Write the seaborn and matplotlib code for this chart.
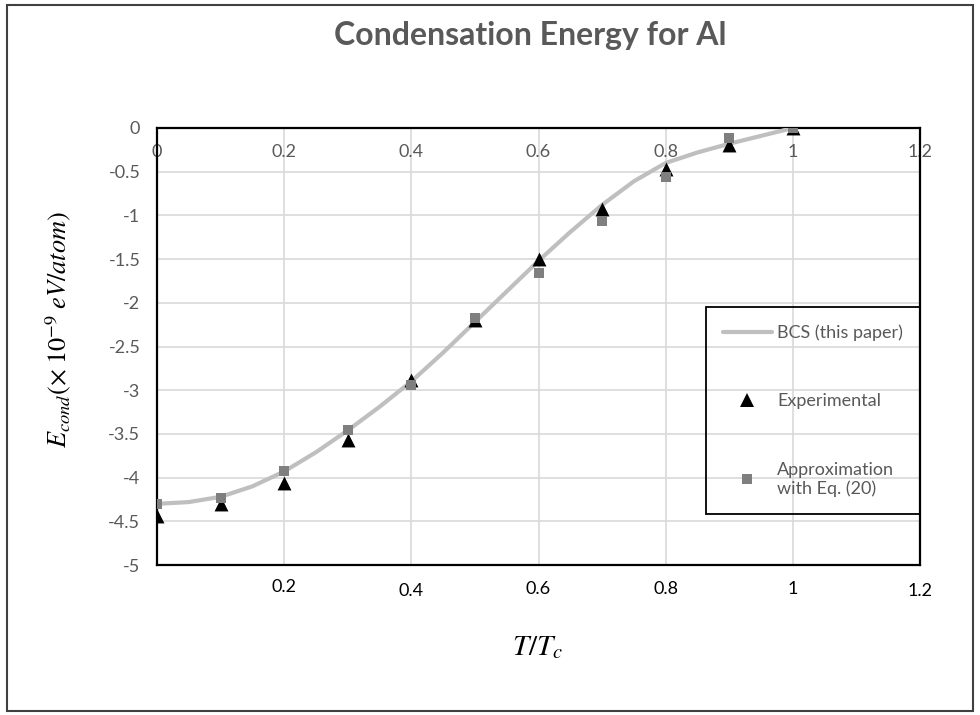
import numpy as np
import pandas as pd
import matplotlib
matplotlib.use("Agg")
import matplotlib.pyplot as plt
import matplotlib.transforms as mtransforms
from matplotlib.patches import Rectangle
from matplotlib.lines import Line2D
import seaborn as sns


# ==========================================================
# DATA
# ==========================================================

# BCS curve (this paper)
bcs_t = [0.0, 0.05, 0.1, 0.15, 0.2, 0.25, 0.3, 0.35, 0.4, 0.45, 0.5,
         0.55, 0.6, 0.65, 0.7, 0.75, 0.8, 0.85, 0.9, 0.95, 1.0]
bcs_e = [-4.30, -4.28, -4.22, -4.10, -3.93, -3.71, -3.46, -3.19, -2.90, -2.57, -2.22,
         -1.87, -1.52, -1.19, -0.88, -0.61, -0.40, -0.28, -0.18, -0.09, 0.0]

# Experimental points
exp_t = [0.0, 0.1, 0.2, 0.3, 0.4, 0.5, 0.6, 0.7, 0.8, 0.9, 1.0]
exp_e = [-4.44, -4.30, -4.06, -3.57, -2.88, -2.20, -1.50, -0.93, -0.47, -0.19, 0.0]

# Approximation with Eq. (20)
app_t = [0.0, 0.1, 0.2, 0.3, 0.4, 0.5, 0.6, 0.7, 0.8, 0.9, 1.0]
app_e = [-4.30, -4.23, -3.93, -3.46, -2.94, -2.17, -1.66, -1.06, -0.56, -0.12, 0.0]

x_ticks = [0, 0.2, 0.4, 0.6, 0.8, 1.0, 1.2]
x_tick_labels = ["0", "0.2", "0.4", "0.6", "0.8", "1", "1.2"]
y_ticks = [-5, -4.5, -4, -3.5, -3, -2.5, -2, -1.5, -1, -0.5, 0]
y_tick_labels = ["-5", "-4.5", "-4", "-3.5", "-3", "-2.5", "-2", "-1.5", "-1", "-0.5", "0"]

# extra labels along the bottom edge (the reference has them as loose text)
bottom_labels = ["0.2", "0.4", "0.6", "0.8", "1", "1.2"]
bottom_label_x = [0.2, 0.4, 0.6, 0.8, 1.0, 1.2]


# ==========================================================
# STYLE
# ==========================================================

sns.set_theme(style="white")
plt.rcParams["font.family"] = ["Lato", "DejaVu Sans"]
plt.rcParams["mathtext.fontset"] = "stix"
plt.rcParams["axes.unicode_minus"] = False

GRAY_TEXT = "#595959"
GRID = "#d9d9d9"
LINE = "#bfbfbf"
SQUARE = "#7f7f7f"


# ==========================================================
# PLOT
# ==========================================================

bcs_df = pd.DataFrame({"t": bcs_t, "e": bcs_e})
exp_df = pd.DataFrame({"t": exp_t, "e": exp_e})
app_df = pd.DataFrame({"t": app_t, "e": app_e})

fig = plt.figure(figsize=(9.8, 7.15), dpi=100)
ax = fig.add_axes([157 / 980, 1 - 565 / 715, 763 / 980, 437 / 715])

sns.lineplot(data=bcs_df, x="t", y="e", ax=ax, color=LINE, linewidth=3,
             sort=False, zorder=3)
sns.scatterplot(data=exp_df, x="t", y="e", ax=ax, marker="^", color="black",
                s=100, linewidth=0, zorder=4)
sns.scatterplot(data=app_df, x="t", y="e", ax=ax, marker="s", color=SQUARE,
                s=52, linewidth=0, zorder=5)

ax.set_xlim(0, 1.2)
ax.set_ylim(-5, 0)
ax.set_xticks(x_ticks)
ax.set_xticklabels(x_tick_labels)
ax.set_yticks(y_ticks)
ax.set_yticklabels(y_tick_labels)
ax.set_xlabel("")
ax.set_ylabel("")

ax.grid(True, color=GRID, linewidth=1.2)
ax.set_axisbelow(True)

for sp in ax.spines.values():
    sp.set_color("black")
    sp.set_linewidth(1.6)

# x labels sit just under the top axis line, like Excel with the axis crossing at 0
ax.tick_params(axis="x", top=True, labeltop=True, bottom=False, labelbottom=False,
               length=0, pad=-23, labelsize=13, labelcolor=GRAY_TEXT)
ax.tick_params(axis="y", length=0, pad=12, labelsize=13, labelcolor=GRAY_TEXT)

trans = mtransforms.blended_transform_factory(ax.transData, ax.transAxes)
bottom_y = [-0.050, -0.059, -0.054, -0.055, -0.055, -0.059]
for x, lab, yy in zip(bottom_label_x, bottom_labels, bottom_y):
    ax.text(x, yy, lab, transform=trans, ha="center", va="center",
            fontsize=13, color="black")

# legend
handles = [
    Line2D([0], [0], color=LINE, linewidth=3),
    Line2D([0], [0], marker="^", color="black", linestyle="none", markersize=10,
           markeredgewidth=0),
    Line2D([0], [0], marker="s", color=SQUARE, linestyle="none", markersize=7.2,
           markeredgewidth=0),
]
labels = ["BCS (this paper)", "Experimental", "Approximation\nwith Eq. (20)"]
leg = ax.legend(handles, labels, loc="upper right", bbox_to_anchor=(1.0, 0.59),
                borderaxespad=0, frameon=True, fancybox=False,
                edgecolor="black", fontsize=13, labelspacing=2.9,
                handlelength=2.7, handletextpad=0.3, borderpad=0.95)
frame = leg.get_frame()
frame.set_linewidth(1.3)
frame.set_facecolor("none")
frame.set_edgecolor("black")
frame.set_alpha(None)
for t in leg.get_texts():
    t.set_color(GRAY_TEXT)

# titles and axis labels
fig.text(530 / 980, 1 - 36 / 715, "Condensation Energy for Al", ha="center",
         va="center", fontsize=23, fontweight="bold", color=GRAY_TEXT)
fig.text(538 / 980, 1 - 648 / 715, r"$T/T_c$", ha="center", va="center",
         fontsize=21, color="black")
fig.text(58 / 980, 1 - 330 / 715, r"$E_{cond}(\times\;10^{-9}\;eV/atom)$",
         ha="center", va="center", rotation=90, fontsize=19, color="black")

# outer chart border
fig.patches.append(Rectangle((7 / 980, 4 / 715), 966 / 980, 706 / 715,
                             transform=fig.transFigure, fill=False,
                             edgecolor="#404040", linewidth=1.5))

fig.savefig("out.png", dpi=100)
plt.close(fig)
